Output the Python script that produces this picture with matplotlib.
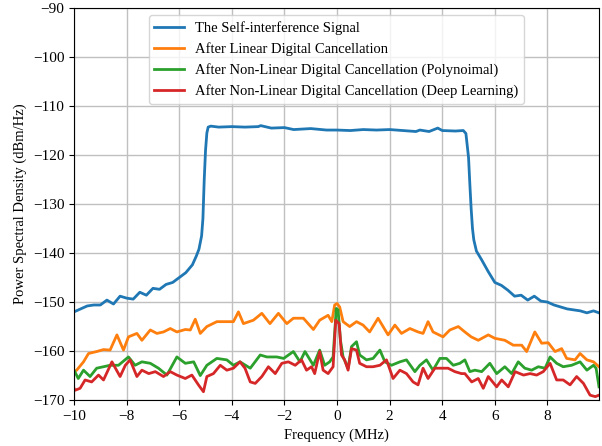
import matplotlib
matplotlib.use("Agg")
import matplotlib.pyplot as plt

plt.rcParams["font.family"] = ["Liberation Serif", "DejaVu Serif"]
plt.rcParams["font.size"] = 10.5

# Frequency (MHz) / PSD (dBm/Hz)
blue_x = [-10, -9.75, -9.5, -9.25, -9, -8.75, -8.5, -8.25, -8, -7.75, -7.5, -7.25, -7, -6.75,
          -6.5, -6.25, -6, -5.75, -5.5, -5.35, -5.25, -5.15, -5.1, -5.05, -5.0, -4.95, -4.9,
          -4.8, -4.5, -4, -3.5, -3, -2.9, -2.5, -2, -1.65, -1, -0.4, 0, 0.5, 1, 1.5, 2, 2.5,
          3, 3.15, 3.5, 3.83, 4, 4.5, 4.8, 4.9, 5.0, 5.05, 5.1, 5.15, 5.2, 5.3, 5.5, 5.75, 6,
          6.25, 6.5, 6.75, 7, 7.25, 7.5, 7.75, 8, 8.25, 8.5, 8.75, 9, 9.25, 9.5, 9.75, 9.96]
blue_y = [-152.0, -151.4, -150.8, -150.6, -150.6, -149.6, -150.4, -148.8, -149.2, -149.4,
          -148.0, -148.6, -147.2, -147.4, -146.4, -146.0, -145.0, -144.0, -142.4, -140.6,
          -139.2, -136.5, -133.0, -125.0, -119.0, -115.5, -114.3, -114.1, -114.3, -114.2,
          -114.3, -114.2, -114.0, -114.5, -114.4, -114.8, -114.6, -114.9, -114.9, -115.0,
          -114.8, -114.9, -114.8, -115.0, -115.2, -114.9, -115.2, -114.5, -115.0, -115.1,
          -115.0, -115.6, -120.5, -126.0, -131.0, -135.0, -137.3, -139.6, -141.4, -143.8,
          -146.0, -146.6, -147.6, -148.8, -148.6, -149.6, -148.8, -149.8, -150.0, -150.6,
          -151.0, -151.4, -151.6, -151.8, -152.2, -151.8, -152.2]

orange_x = [-10, -9.9, -9.64, -9.45, -9.14, -8.88, -8.63, -8.37, -8.12, -7.93, -7.61, -7.42,
            -7.1, -6.85, -6.6, -6.34, -6.09, -5.77, -5.58, -5.39, -5.2, -4.95, -4.57, -4.19,
            -3.94, -3.75, -3.56, -3.18, -2.86, -2.55, -2.23, -1.91, -1.66, -1.28, -0.9, -0.66,
            -0.34, -0.2, -0.09, 0, 0.1, 0.23, 0.48, 0.74, 0.99, 1.24, 1.56, 1.94, 2.2, 2.45,
            2.77, 3.08, 3.27, 3.46, 3.65, 4.03, 4.29, 4.61, 4.86, 5.1, 5.37, 5.75, 6.0, 6.38,
            6.7, 7.02, 7.21, 7.52, 7.78, 8.03, 8.29, 8.54, 8.73, 9.05, 9.24, 9.5, 9.75, 9.96]
orange_y = [-164.2, -163.9, -162.2, -160.5, -160.1, -159.7, -159.8, -156.7, -159.8, -157.1,
            -156.4, -157.8, -155.7, -156.4, -156.1, -155.4, -156.1, -155.6, -155.7, -153.5,
            -156.4, -155.0, -154.0, -154.0, -154.0, -152.0, -154.4, -153.7, -152.3, -154.4,
            -152.3, -154.4, -153.3, -153.3, -155.6, -153.7, -152.7, -154.0, -150.6, -150.3,
            -151.0, -154.0, -155.0, -154.0, -154.7, -156.1, -153.3, -156.7, -154.7, -156.4,
            -155.4, -156.1, -156.4, -154.0, -156.1, -157.1, -155.7, -155.0, -156.1, -157.1,
            -157.8, -156.7, -157.4, -157.8, -158.8, -158.8, -160.1, -156.1, -158.4, -158.3,
            -160.1, -159.5, -161.5, -161.8, -160.5, -161.8, -162.2, -163.2]

green_x = [-10, -9.84, -9.64, -9.39, -9.14, -8.88, -8.63, -8.31, -7.93, -7.68, -7.42, -7.1,
           -6.79, -6.47, -6.09, -5.77, -5.45, -5.2, -4.95, -4.57, -4.19, -3.94, -3.69, -3.3,
           -2.92, -2.67, -2.29, -2.03, -1.66, -1.41, -1.22, -0.9, -0.66, -0.47, -0.28, -0.15,
           -0.03, 0.04, 0.13, 0.23, 0.42, 0.55, 0.74, 0.86, 1.12, 1.37, 1.63, 1.82, 2.07, 2.39,
           2.64, 2.96, 3.15, 3.4, 3.65, 3.91, 4.16, 4.42, 4.67, 4.86, 5.05, 5.24, 5.5, 5.81,
           6.07, 6.38, 6.64, 6.89, 7.14, 7.4, 7.65, 7.91, 8.1, 8.35, 8.6, 8.92, 9.24, 9.5,
           9.75, 9.85, 9.96]
green_y = [-163.9, -165.6, -163.9, -165.2, -163.5, -163.2, -162.9, -162.9, -161.2, -162.9,
           -162.2, -162.5, -163.5, -164.9, -161.2, -162.5, -162.2, -165.0, -162.9, -161.5,
           -161.8, -162.9, -162.2, -163.5, -160.8, -161.2, -161.2, -161.5, -160.1, -162.2,
           -160.1, -162.9, -159.8, -162.9, -162.2, -161.2, -151.3, -151.6, -157.8, -161.2,
           -163.5, -159.1, -158.1, -160.8, -161.8, -161.5, -159.8, -162.2, -162.9, -162.2,
           -161.8, -164.2, -162.9, -161.8, -163.9, -161.5, -161.5, -162.9, -162.5, -161.8,
           -164.2, -163.9, -164.2, -162.5, -164.6, -163.2, -164.6, -162.2, -163.5, -163.9,
           -163.2, -163.5, -161.2, -162.5, -163.2, -162.9, -162.2, -163.9, -162.9, -163.5,
           -167.3]

red_x = [-10, -9.96, -9.77, -9.58, -9.33, -9.07, -8.88, -8.56, -8.25, -8.05, -7.87, -7.61,
         -7.42, -7.16, -6.91, -6.6, -6.34, -6.09, -5.77, -5.52, -5.27, -5.08, -4.95, -4.7,
         -4.44, -4.19, -3.94, -3.69, -3.5, -3.3, -3.11, -2.86, -2.61, -2.35, -2.1, -1.85,
         -1.59, -1.35, -1.16, -0.97, -0.85, -0.66, -0.53, -0.34, -0.15, -0.05, 0.08, 0.17,
         0.29, 0.42, 0.55, 0.74, 0.86, 1.12, 1.37, 1.63, 1.88, 2.13, 2.39, 2.64, 2.89, 3.08,
         3.27, 3.46, 3.72, 3.97, 4.22, 4.48, 4.73, 4.86, 5.12, 5.37, 5.56, 5.75, 6.07, 6.26,
         6.51, 6.77, 7.09, 7.34, 7.59, 7.84, 8.1, 8.35, 8.6, 8.86, 9.11, 9.37, 9.62, 9.82, 9.96]
red_y = [-167.6, -168.0, -167.6, -165.9, -166.3, -164.9, -165.9, -162.2, -165.2, -162.9,
         -161.8, -165.2, -163.9, -164.6, -164.2, -165.2, -164.2, -164.9, -165.6, -164.9,
         -166.9, -168.3, -165.2, -164.6, -162.9, -163.9, -163.5, -162.2, -163.5, -166.3,
         -166.6, -165.2, -163.2, -164.6, -162.5, -162.2, -162.9, -161.8, -163.9, -163.2,
         -164.6, -160.1, -163.9, -164.6, -163.2, -153.7, -154.4, -160.8, -161.8, -163.9,
         -159.5, -159.8, -162.5, -163.2, -163.2, -162.9, -161.8, -165.6, -163.9, -164.6,
         -166.3, -166.9, -163.5, -165.6, -163.5, -163.5, -163.5, -164.2, -164.6, -164.6,
         -166.3, -165.6, -167.6, -165.2, -167.3, -165.9, -167.3, -164.2, -164.9, -164.6,
         -164.9, -164.2, -162.5, -165.9, -165.9, -166.9, -165.2, -166.6, -169.0, -169.3,
         -169.0]

labels = ["The Self-interference Signal",
          "After Linear Digital Cancellation",
          "After Non-Linear Digital Cancellation (Polynoimal)",
          "After Non-Linear Digital Cancellation (Deep Learning)"]

fig = plt.figure(figsize=(6.02, 4.46), dpi=100)
ax = fig.add_axes([0.123, 0.103, 0.872, 0.879])

ax.plot(blue_x, blue_y, color="tab:blue", lw=2.0, label=labels[0])
ax.plot(orange_x, orange_y, color="tab:orange", lw=2.0, label=labels[1])
ax.plot(green_x, green_y, color="tab:green", lw=2.0, label=labels[2])
ax.plot(red_x, red_y, color="tab:red", lw=2.0, label=labels[3])

ax.set_xlim(blue_x[0], blue_x[-1])
ax.set_ylim(-170, -90)
ax.set_xticks([-10, -8, -6, -4, -2, 0, 2, 4, 6, 8])
ax.tick_params(labelsize=11)
ax.grid(True, color="#c0c0c0", lw=1.0)
ax.set_xlabel("Frequency (MHz)")
ax.set_ylabel("Power Spectral Density (dBm/Hz)")
ax.legend(loc="upper center", fontsize=10.5)

fig.savefig("out.png", dpi=100)
